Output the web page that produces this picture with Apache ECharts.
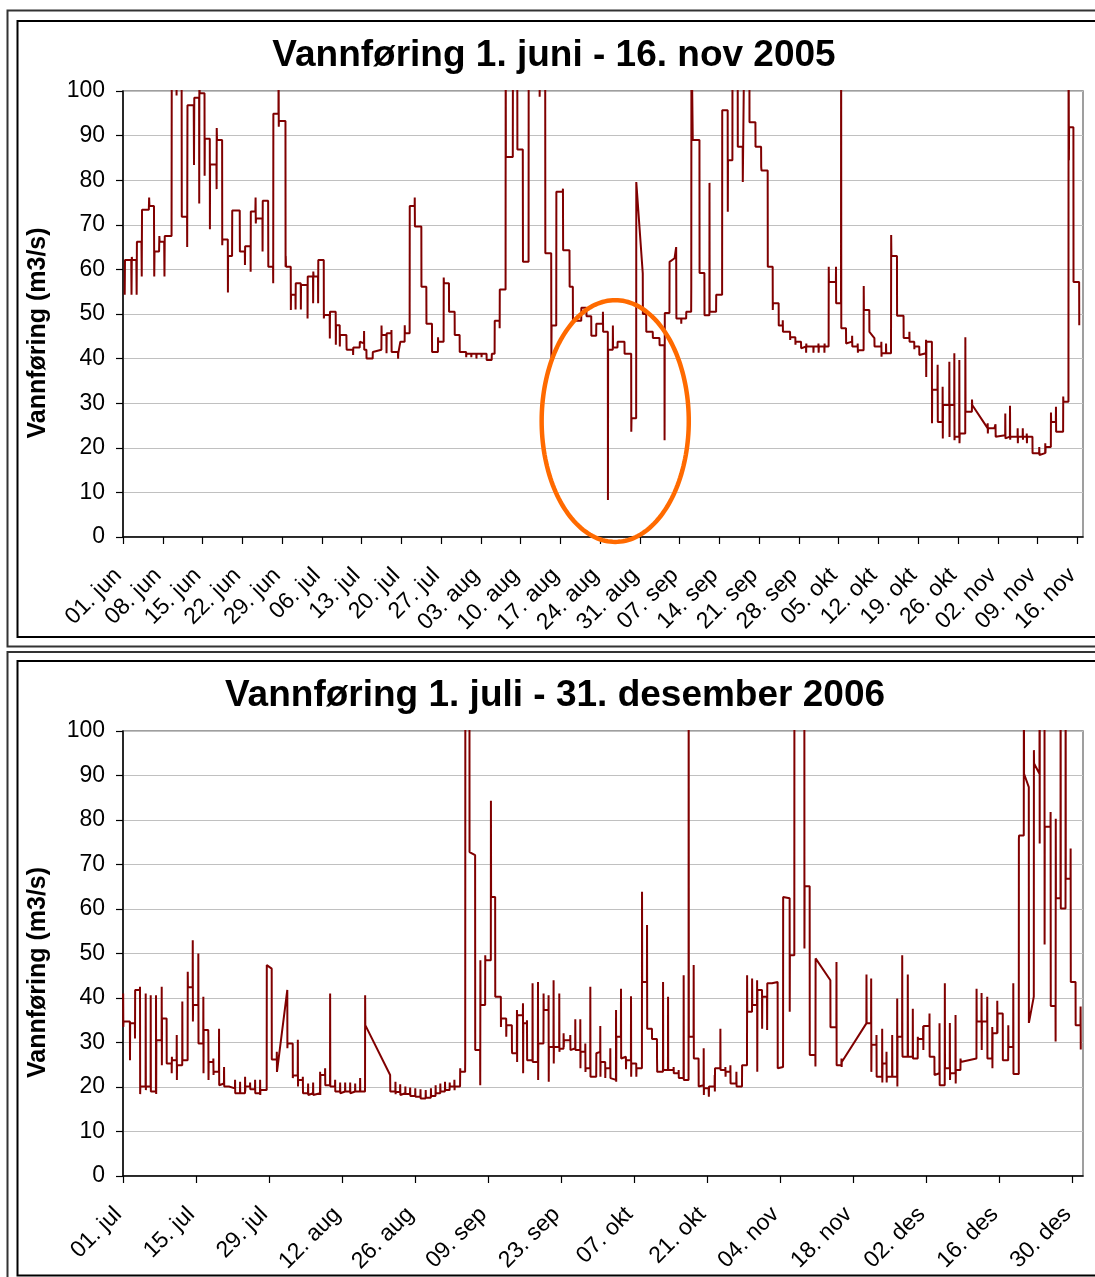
<!DOCTYPE html>
<html>
<head>
<meta charset="utf-8">
<title>Vannføring</title>
<script src="https://cdn.jsdelivr.net/npm/echarts@6/dist/echarts.min.js"></script>
<style>
  html, body { margin: 0; padding: 0; background: #ffffff; }
  #chart { width: 1095px; height: 1277px; }
</style>
</head>
<body>
<div id="chart"></div>
<script>
// Norwegian month abbreviations used on the date axes
const MONTHS = ['jan', 'feb', 'mar', 'apr', 'mai', 'jun', 'jul', 'aug', 'sep', 'okt', 'nov', 'des'];

// Period starts (year, month, day); x values below are days counted from these dates
const START_2005 = [2005, 6, 1];
const START_2006 = [2006, 7, 1];
const SPAN_2005 = 169;   // 1 June – 17 November 2005
const SPAN_2006 = 184;   // 1 July 2006 – 1 January 2007

// Flow readings (m3/s), [day since start, value]; values above 100 run off the top of the axis
const flow2005 = [
  [0.3,54.3],[0.35,62.1],[1.45,62.1],[1.5,54.3],[1.55,62.8],[1.6,62.1],[2.35,62.1],[2.4,54.3],[2.45,66.2],[3.25,66.2],
  [3.3,58.4],[3.35,73.4],[4.55,73.4],[4.6,76.1],[4.65,74.2],[5.45,74.2],[5.5,58.4],[5.55,64],[6.35,64],[6.4,67.5],
  [6.45,66.2],[7.25,66.2],[7.3,58.4],[7.35,67.5],[8.55,67.5],[8.6,125],[9.4,125],[9.43,99],[9.46,125],[10.3,125],
  [10.35,71.8],[11.28,71.8],[11.3,65],[11.35,96.8],[12.45,96.8],[12.5,83.4],[12.55,98.5],[13.4,98.5],[13.42,74.8],[13.45,110],
  [13.5,99.5],[14.35,99.5],[14.37,81],[14.4,89.3],[15.28,89.3],[15.3,69],[15.33,83.5],[16.45,83.5],[16.48,78],[16.5,91.7],
  [16.55,89],[17.45,89],[17.47,65.4],[17.5,66.7],[18.45,66.7],[18.47,54.8],[18.5,63],[19.2,63],[19.23,73.2],[20.55,73.2],
  [20.58,64],[21.45,64],[21.47,61],[21.5,65.2],[22.45,65.2],[22.47,59.5],[22.5,73],[23.3,73],[23.34,76.1],[23.38,70.3],
  [23.42,71.4],[24.55,71.4],[24.57,64],[24.6,75.4],[25.55,75.4],[25.58,60.6],[26.42,60.6],[26.44,56.9],[26.47,94.9],[27.37,94.9],
  [27.39,110],[27.42,92],[27.45,93.3],[28.6,93.3],[28.62,60.6],[28.65,63],[28.7,60.6],[29.53,60.6],[29.55,50.9],[29.58,54.3],
  [30.36,54.3],[30.38,51],[30.41,56.9],[31.29,56.9],[31.31,51],[31.34,56.5],[32.47,56.5],[32.49,49],[32.52,58.4],[33.45,58.4],
  [33.47,52.4],[33.5,59.5],[33.55,58.4],[34.33,58.4],[34.35,52.4],[34.38,62.1],[35.34,62.1],[35.36,49],[35.4,49.8],[36.38,49.8],
  [36.41,44.5],[36.44,50.5],[37.44,50.5],[37.47,43.1],[37.5,47.5],[38.15,47.5],[38.17,42.7],[38.2,45.3],[39.33,45.3],[39.35,42.7],
  [39.38,42],[40.49,42],[40.51,40.8],[40.54,42.5],[41.67,42.5],[41.69,43.8],[41.72,43.4],[42.42,43.4],[42.44,46.2],[42.47,42],
  [42.85,42],[42.87,40],[43.95,40],[43.98,41.5],[45.49,42],[45.51,47.4],[45.54,45.3],[46.37,45.3],[46.39,41.2],[46.42,45.7],
  [47.24,45.7],[47.26,46.4],[47.29,41.5],[48.4,41.5],[48.43,40],[48.46,41.2],[48.8,41.2],[48.83,43.8],[49.58,43.8],[49.6,47.5],
  [49.63,45.7],[50.46,45.7],[50.48,74.2],[51.34,74.2],[51.36,76.1],[51.39,69.6],[52.52,69.6],[52.54,56.1],[53.4,56.1],[53.42,47.8],
  [54.39,47.8],[54.41,41.5],[55.44,41.5],[55.46,44.8],[55.49,43.8],[56.44,43.8],[56.46,58.2],[56.5,56.9],[57.38,56.9],[57.4,50.5],
  [58.38,50.5],[58.4,45.3],[59.26,45.3],[59.28,41.5],[60.4,41.5],[60.42,40.3],[60.45,41.1],[61.3,41.1],[61.32,40.3],[61.35,41.1],
  [62.2,41.1],[62.22,40],[62.25,41.1],[63.1,41.1],[63.12,40.3],[63.15,41.1],[64,41.1],[64.02,39.7],[64.9,39.7],[64.93,41.1],
  [65.42,41.1],[65.44,48.5],[66.29,48.5],[66.31,46.8],[66.33,55.5],[67.35,55.5],[67.37,115],[67.4,85.2],[68.62,85.2],[68.65,115],
  [69.4,115],[69.43,86.9],[70.38,86.9],[70.41,61.7],[71.4,61.7],[71.42,115],[73.3,115],[73.35,98.7],[73.4,115],[74.32,115],
  [74.35,63.6],[75.38,63.6],[75.41,40],[75.45,47.4],[76.27,47.4],[76.29,77.4],[77.42,77.4],[77.45,78.1],[77.48,64.3],[78.6,64.3],
  [78.63,56.1],[79.19,56.1],[79.21,48.5],[80.67,48.5],[80.69,51.4],[81.57,51.4],[81.6,49.5],[82.43,49.5],[82.45,45.1],[83.3,45.1],
  [83.32,47.8],[84.47,47.8],[84.49,50.5],[84.52,46],[85.35,46],[85.37,8.3],[85.4,42],[86.22,42],[86.24,47.4],[86.27,42.5],
  [87.05,42.5],[87.07,43.8],[88.28,43.8],[88.3,41.1],[89.46,41.1],[89.48,23.6],[89.52,26.6],[90.34,26.6],[90.36,79.6],[91.5,59.1],
  [91.52,50],[92.1,50],[92.12,46],[93.26,46],[93.28,44.6],[94.44,44.6],[94.46,43],[95.32,43],[95.34,21.7],[95.38,50.2],
  [96.2,50.2],[96.22,61.7],[97.1,62.5],[97.35,62.5],[97.38,65],[97.42,49],[98.26,49],[98.28,47.8],[98.3,49],[99.14,49],
  [99.16,50.5],[100.02,50.5],[100.04,56.1],[100.07,115],[100.3,89],[101.48,89],[101.5,59.2],[102.35,59.2],[102.37,49.7],[103.23,49.7],
  [103.25,79.4],[103.28,50.5],[104.41,50.5],[104.43,54.3],[105.47,54.3],[105.49,95.7],[106.45,95.7],[106.47,72.9],[106.5,84.5],[107.28,84.5],
  [107.3,115],[108.2,115],[108.23,87.5],[109.09,87.5],[109.11,79.6],[109.4,115],[110.27,115],[110.29,93],[111.33,93],[111.35,87.5],
  [112.33,87.5],[112.35,83],[112.4,82.2],[113.49,82.2],[113.51,60.6],[114.37,60.6],[114.39,50.9],[114.42,52.4],[115.42,52.4],[115.44,47.4],
  [116.13,47.4],[116.15,48.6],[116.18,46],[117.43,46],[117.45,44.2],[117.48,44.8],[118.36,44.8],[118.38,43.1],[118.41,43.8],[119.36,43.8],
  [119.38,42.3],[119.41,42.7],[120.24,42.7],[120.26,41.3],[120.29,43.4],[120.32,42.7],[121.53,42.7],[121.55,41.3],[121.58,42.7],[122.41,42.7],
  [122.43,43.4],[122.46,41.3],[122.5,42.7],[123.46,42.7],[123.48,41.3],[123.51,43.4],[123.54,42.7],[124.22,42.7],[124.24,60.6],[124.27,57.2],
  [125.5,57.2],[125.52,60.6],[125.54,52.4],[126.4,52.4],[126.42,125],[126.45,46.8],[127.28,46.8],[127.3,43.4],[127.33,43.8],[128.34,43.8],
  [128.36,45.1],[128.39,42.7],[129.32,42.7],[129.34,43.4],[129.37,41.3],[129.4,41.9],[130.38,41.9],[130.4,56.3],[130.43,50.9],[131.38,50.9],
  [131.4,46],[132.28,44.6],[132.3,42.7],[133.48,42.7],[133.5,43.8],[133.53,40.4],[133.56,41.2],[134.31,41.2],[134.33,43.4],[134.36,41.2],
  [135.2,41.2],[135.23,67.7],[135.27,63],[136.25,63],[136.27,49.6],[137.41,49.6],[137.43,44.6],[138.42,44.6],[138.44,46],[138.47,43.8],
  [139.29,43.8],[139.31,42.1],[139.34,42.7],[140.17,42.7],[140.19,40.8],[140.22,41.2],[141.35,41.2],[141.37,44.2],[141.4,35.9],[141.43,43.8],
  [142.4,43.8],[142.42,25.5],[142.45,33],[143.39,33],[143.41,38.6],[143.44,25.8],[144.27,25.8],[144.29,33.7],[144.32,22.1],[144.35,29.6],
  [145.45,29.6],[145.47,39.3],[145.5,22.4],[145.53,29.6],[146.33,29.6],[146.35,41.2],[146.38,21.7],[146.41,22.5],[147.21,22.5],[147.23,39.7],
  [147.26,21],[147.3,23.2],[148.27,23.2],[148.29,44.8],[148.32,28.1],[149.44,28.1],[149.46,30.8],[149.5,29.6],[152.2,24.4],[152.22,25.5],
  [152.25,23.2],[152.28,24.4],[153.4,24.4],[153.6,25.3],[153.63,22.5],[153.66,22.8],[155.3,22.8],[155.32,27.7],[155.35,22.1],[155.38,22.5],
  [156.13,22.5],[156.15,29.4],[156.18,21.8],[156.21,22.5],[157.48,22.5],[157.5,24.4],[157.53,21],[157.56,22.5],[158.38,22.5],[158.4,24.4],
  [158.43,21.8],[158.46,22.5],[159.08,22.5],[159.1,23.2],[159.13,21],[159.16,22.5],[160.1,22.5],[160.12,18.8],[161.28,18.8],[161.3,20.2],
  [161.33,18.4],[161.36,18.8],[162.34,18.8],[162.36,21],[162.39,18.8],[162.42,20.2],[163.34,20.2],[163.36,27.9],[163.39,25.8],[164.22,25.8],
  [164.24,29.2],[164.27,23.6],[165.5,23.6],[165.52,31.5],[165.55,30.3],[166.44,30.3],[166.46,120],[166.52,84.5],[166.55,91.9],[167.31,91.9],
  [167.33,57.2],[168.32,57.2],[168.34,47.5]
];

const flow2006 = [
  [0.03,41.0],[0.06,33.5],[0.1,34.7],[1.32,34.7],[1.34,26.0],[1.37,34.3],[2.28,34.3],[2.3,30.9],[2.33,41.8],[3.24,41.8],
  [3.26,42.5],[3.29,18.4],[3.32,20.1],[4.33,20.1],[4.35,41.0],[4.38,19.3],[4.41,20.1],[5.29,20.1],[5.31,40.6],[5.34,19.0],
  [6.31,19.0],[6.33,40.6],[6.36,18.4],[6.39,30.5],[7.4,30.5],[7.42,42.5],[7.45,24.9],[7.48,35.4],[8.36,35.4],[8.38,25.3],
  [9.32,25.3],[9.34,23.1],[9.37,26.8],[9.4,26.0],[10.28,26.0],[10.3,31.7],[10.33,21.6],[10.36,24.9],[11.35,24.9],[11.37,39.2],
  [11.4,26.0],[12.39,26.0],[12.41,45.9],[12.44,42.4],[13.35,42.4],[13.37,53.0],[13.4,34.7],[13.43,38.4],[14.42,38.4],[14.44,50.0],
  [14.47,29.8],[15.38,29.8],[15.4,40.3],[15.43,23.1],[15.46,32.8],[16.34,32.8],[16.36,31.3],[16.39,21.6],[16.42,25.6],[17.3,25.6],
  [17.32,26.4],[17.35,22.7],[17.38,23.4],[18.39,23.4],[18.41,33.1],[18.44,20.4],[18.47,20.8],[19.35,20.8],[19.37,24.5],[19.4,20.1],
  [20.31,20.1],[20.33,19.7],[21.46,19.7],[21.48,21.6],[21.51,18.6],[22.42,18.6],[22.44,21.2],[22.47,18.6],[23.38,18.6],[23.4,22.3],
  [23.43,19.0],[23.46,20.1],[24.34,20.1],[24.36,21.0],[24.39,19.5],[25.3,19.5],[25.32,21.6],[25.35,18.6],[26.26,18.6],[26.28,21.6],
  [26.31,18.2],[26.34,19.3],[27.54,19.3],[27.56,47.4],[27.6,47.2],[28.5,46.6],[28.52,26.2],[29.46,26.2],[29.48,27.9],[29.51,23.4],
  [31.49,41.8],[31.51,28.7],[31.54,29.8],[32.53,29.8],[32.55,22.0],[32.58,22.6],[33.49,22.6],[33.51,30.6],[33.54,20.1],[33.57,21.6],
  [34.45,21.6],[34.47,22.3],[34.5,18.6],[35.46,18.6],[35.48,20.8],[35.51,18.2],[35.54,18.6],[36.42,18.6],[36.44,21.0],[36.47,18.2],
  [36.5,18.6],[37.76,18.6],[37.78,23.4],[37.81,18.2],[37.84,22.7],[38.72,22.7],[38.74,24.2],[38.77,20.4],[39.68,20.4],[39.7,41.0],
  [39.73,20.1],[40.64,20.1],[40.66,21.6],[40.69,19.0],[41.6,19.0],[41.62,21.0],[41.65,18.6],[41.68,19.0],[42.56,19.0],[42.58,21.0],
  [42.61,19.0],[43.52,19.0],[43.54,21.0],[43.57,18.6],[43.6,19.0],[44.48,19.0],[44.5,20.8],[44.53,19.0],[45.43,19.0],[45.45,22.0],
  [45.48,19.0],[46.39,19.0],[46.41,40.6],[46.44,33.9],[51.2,22.7],[51.23,19.0],[52.2,19.0],[52.22,21.2],[52.25,18.4],[52.28,18.9],
  [53.1,18.9],[53.13,20.6],[53.16,18.2],[53.2,18.6],[54.1,18.6],[54.12,20.1],[54.15,18.4],[55.0,18.4],[55.04,19.9],[55.07,18.0],
  [56.0,18.0],[56.02,19.7],[56.05,17.8],[57.0,17.8],[57.02,19.5],[57.05,17.4],[58.0,17.4],[58.02,19.3],[58.05,17.6],[59.0,17.6],
  [59.02,19.7],[59.05,18.0],[59.9,18.0],[59.92,20.4],[59.95,18.6],[60.8,18.6],[60.82,20.8],[60.85,19.0],[61.7,19.0],[61.72,21.2],
  [61.75,19.3],[62.6,19.3],[62.62,21.0],[62.65,20.1],[63.5,20.1],[63.52,21.6],[63.55,19.3],[63.58,20.1],[64.6,20.1],[64.63,24.2],
  [64.66,23.4],[65.57,23.4],[65.59,26.2],[65.62,125],[66.4,125],[66.42,72.8],[67.49,72.1],[67.51,28.3],[68.45,28.3],[68.47,20.4],
  [68.5,48.5],[68.53,38.4],[69.41,38.4],[69.43,49.6],[69.46,48.5],[70.5,48.5],[70.52,84.3],[70.55,62.7],[71.33,62.7],[71.35,40.3],
  [72.42,40.3],[72.44,33.5],[72.47,35.4],[73.44,35.4],[73.46,31.3],[73.49,33.9],[74.53,33.9],[74.55,28.3],[74.58,27.6],[75.49,27.6],
  [75.51,37.3],[75.54,25.6],[75.57,36.1],[76.64,36.1],[76.66,38.8],[76.69,23.1],[76.72,34.3],[77.41,34.3],[77.43,35.0],[77.46,26.0],
  [78.48,26.0],[78.5,43.3],[78.53,25.6],[79.52,25.6],[79.54,43.6],[79.57,21.6],[79.6,29.8],[80.59,29.8],[80.61,41.0],[80.64,37.3],
  [81.55,37.3],[81.57,40.6],[81.6,21.2],[81.63,29.0],[82.51,29.0],[82.53,44.0],[82.56,25.3],[82.59,29.0],[83.6,29.0],[83.62,41.0],
  [83.65,27.9],[83.68,28.6],[84.43,28.6],[84.45,32.1],[84.48,29.0],[84.51,30.5],[85.71,30.5],[85.73,31.7],[85.76,28.3],[85.79,28.7],
  [86.67,28.7],[86.69,35.2],[86.72,28.3],[87.63,28.3],[87.65,35.2],[87.68,24.2],[87.71,27.9],[88.59,27.9],[88.61,29.8],[88.64,23.4],
  [88.67,24.2],[89.55,24.2],[89.57,42.5],[89.6,22.3],[90.7,22.3],[90.72,27.6],[90.75,27.9],[91.46,27.9],[91.48,33.7],[91.51,22.3],
  [91.54,25.6],[92.42,25.6],[92.44,22.0],[92.47,24.2],[93.38,24.2],[93.4,28.7],[93.43,22.0],[93.46,21.6],[94.48,21.6],[94.5,37.3],
  [94.53,21.2],[94.56,31.3],[95.43,31.3],[95.45,42.1],[95.48,26.4],[95.51,26.8],[96.39,26.8],[96.41,24.0],[96.44,26.0],[97.35,26.0],
  [97.37,40.4],[97.4,22.3],[97.43,25.3],[98.37,25.3],[98.39,22.3],[98.42,24.2],[99.46,24.2],[99.48,63.9],[99.51,43.6],[100.42,43.6],
  [100.44,56.4],[100.47,33.1],[101.38,33.1],[101.4,30.8],[102.34,30.8],[102.36,26.0],[102.39,23.4],[103.49,23.4],[103.51,43.6],[103.54,23.8],
  [104.45,23.8],[104.47,40.3],[104.5,23.8],[105.52,23.8],[105.54,24.5],[105.57,23.1],[106.48,23.1],[106.5,23.8],[106.53,22.0],[107.44,22.0],
  [107.46,45.1],[107.49,21.6],[108.4,21.6],[108.42,125],[108.45,31.3],[109.36,31.3],[109.38,47.4],[109.41,26.4],[110.32,26.4],[110.34,20.1],
  [110.37,20.4],[111.28,20.4],[111.3,28.7],[111.33,18.2],[111.36,19.7],[112.24,19.7],[112.26,20.1],[112.29,17.8],[112.32,20.1],[113.39,20.1],
  [113.41,22.7],[113.44,19.0],[113.47,24.2],[114.48,24.2],[114.5,33.1],[114.53,23.8],[115.44,23.8],[115.46,24.5],[115.49,22.3],[115.52,23.4],
  [116.4,23.4],[116.42,24.9],[116.45,20.8],[117.55,20.8],[117.57,23.4],[117.6,20.1],[118.64,20.1],[118.66,24.9],[119.6,24.9],[119.62,45.1],
  [119.65,36.9],[120.56,36.9],[120.58,44.4],[120.61,38.4],[121.52,38.4],[121.54,44.0],[121.57,23.4],[121.6,41.8],[122.48,41.8],[122.5,33.1],
  [122.53,40.3],[123.44,40.3],[123.46,32.8],[123.49,43.3],[124.4,43.3],[124.42,43.6],[125.47,43.6],[125.49,24.2],[125.52,24.5],[126.51,24.5],
  [126.53,62.7],[127.77,62.4],[127.79,36.9],[127.82,49.6],[128.67,49.6],[128.69,125],[130.59,125],[130.61,51.1],[130.64,65.1],[131.61,65.1],
  [131.63,27.2],[132.7,27.2],[132.72,24.6],[132.75,48.9],[135.58,44.0],[135.6,33.4],[136.73,33.4],[136.75,48.1],[136.78,24.9],[137.69,24.9],
  [137.71,26.4],[137.74,24.5],[137.77,25.6],[142.48,34.3],[142.5,45.3],[142.53,34.3],[143.38,34.3],[143.4,44.4],[143.43,23.4],[143.46,29.5],
  [144.4,29.5],[144.42,31.7],[144.45,22.3],[145.49,22.3],[145.51,33.1],[145.54,21.0],[145.57,25.3],[146.32,25.3],[146.34,27.9],[146.37,21.0],
  [146.4,22.3],[147.41,22.3],[147.43,31.7],[147.46,22.3],[148.37,22.3],[148.39,39.9],[148.42,20.1],[148.45,31.3],[149.33,31.3],[149.35,49.6],
  [149.38,29.0],[149.41,26.8],[150.4,26.8],[150.42,45.3],[150.45,26.8],[151.36,26.8],[151.38,37.6],[151.41,26.4],[152.32,26.4],[152.34,31.3],
  [152.37,30.8],[153.35,30.8],[153.37,33.7],[153.4,28.3],[153.43,33.7],[154.56,33.7],[154.58,36.5],[154.61,26.8],[155.52,26.8],[155.54,22.7],
  [155.57,23.1],[156.48,23.1],[156.5,34.3],[156.53,20.4],[157.5,20.4],[157.52,43.3],[157.55,24.2],[158.46,24.2],[158.48,34.4],[158.51,21.6],
  [158.54,23.1],[159.55,23.1],[159.57,36.2],[159.6,20.8],[159.63,23.8],[160.51,23.8],[160.53,26.4],[160.56,25.6],[163.58,26.4],[163.6,42.1],
  [163.63,34.7],[164.54,34.7],[164.56,41.1],[164.59,28.3],[164.62,34.7],[165.63,34.7],[165.65,40.3],[165.68,26.4],[166.59,26.4],[166.61,33.5],
  [166.64,24.2],[166.67,32.1],[167.55,32.1],[167.57,39.4],[167.6,32.1],[167.63,36.5],[168.62,36.5],[168.64,26.0],[169.66,26.0],[169.68,33.9],
  [169.71,29.0],[170.62,29.0],[170.64,43.3],[170.67,22.9],[171.69,22.9],[171.71,75.8],[171.74,76.5],[172.65,76.5],[172.67,125],[172.7,90.4],
  [173.61,87.4],[173.63,34.4],[174.57,40.3],[174.59,95.7],[174.62,92.7],[175.66,90.4],[175.68,125],[175.7,74.7],[175.72,125],[176.62,125],
  [176.64,52],[176.67,78.5],[177.77,78.5],[177.79,81.8],[177.82,38.2],[178.73,38.2],[178.75,30.2],[178.78,80.3],[178.81,62.4],[179.69,62.4],
  [179.71,125],[179.74,60.1],[180.65,60.1],[180.67,125],[180.7,66.8],[181.61,66.8],[181.63,73.6],[181.66,43.6],[182.57,43.6],[182.59,33.9],
  [183.52,33.9],[183.54,38.1],[183.57,28.4],[183.7,28.4]
];

// Tick positions (days) and y-axis scale
const ticks2005 = [0, 7, 14, 21, 28, 35, 42, 49, 56, 63, 70, 77, 84, 91, 98, 105, 112, 119, 126, 133, 140, 147, 154, 161, 168];
const ticks2006 = [0, 14, 28, 42, 56, 70, 84, 98, 112, 126, 140, 154, 168, 182];
const FLOW_MAX = 100;
const FLOW_STEP = 10;

// Circled period in 2005 (days and flow range that the ring encloses)
const circled2005 = { dayFrom: 73.7, dayTo: 99.6, flowLow: -1.1, flowHigh: 53.1 };

const TITLE_2005 = 'Vannføring 1. juni - 16. nov 2005';
const TITLE_2006 = 'Vannføring 1. juli - 31. desember 2006';
const Y_NAME = 'Vannføring (m3/s)';

const FONT = '"Liberation Sans", Arial, Helvetica, sans-serif';
const LINE_COLOR = '#800000';

function dayLabel(start, day) {
  const d = new Date(Date.UTC(start[0], start[1] - 1, start[2] + Math.round(day)));
  return String(d.getUTCDate()).padStart(2, '0') + '. ' + MONTHS[d.getUTCMonth()];
}

function xAxisFor(gridIndex, span, ticks, start, step) {
  return {
    type: 'value',
    gridIndex: gridIndex,
    min: 0,
    max: span,
    interval: step,
    axisLine: { show: true, lineStyle: { color: '#000', width: 1.5 } },
    axisTick: { show: true, length: 7, lineStyle: { color: '#000', width: 1.2 }, customValues: ticks },
    axisLabel: {
      show: true,
      rotate: 45,
      margin: 30,
      fontSize: 23,
      fontFamily: FONT,
      color: '#000',
      padding: [0, 7, 0, 0],
      showMinLabel: true,
      showMaxLabel: true,
      hideOverlap: false,
      customValues: ticks,
      formatter: function (v) { return dayLabel(start, v); }
    },
    splitLine: { show: false }
  };
}

function yAxisFor(gridIndex) {
  return {
    type: 'value',
    gridIndex: gridIndex,
    min: 0,
    max: FLOW_MAX,
    interval: FLOW_STEP,
    name: Y_NAME,
    nameLocation: 'middle',
    nameRotate: 90,
    nameGap: 72,
    nameTextStyle: { fontSize: 25, fontWeight: 'bold', fontFamily: FONT, color: '#000', padding: [0, 38, 0, 0] },
    axisLine: { show: true, lineStyle: { color: '#000', width: 1.5 } },
    axisTick: { show: true, length: 7, lineStyle: { color: '#000', width: 1.2 } },
    axisLabel: { show: true, margin: 18, fontSize: 23, fontFamily: FONT, color: '#000' },
    splitLine: { show: true, lineStyle: { color: '#c0c0c0', width: 1 } }
  };
}

function flowSeries(index, data) {
  return {
    type: 'line',
    xAxisIndex: index,
    yAxisIndex: index,
    data: data,
    showSymbol: false,
    symbol: 'none',
    clip: true,
    animation: false,
    lineStyle: { color: LINE_COLOR, width: 2 },
    emphasis: { disabled: true }
  };
}

const chart = echarts.init(document.getElementById('chart'), null, { renderer: 'canvas' });

chart.setOption({
  backgroundColor: '#ffffff',
  animation: false,
  grid: [
    { left: 123, top: 91, width: 960, height: 446, show: true, borderColor: '#808080', borderWidth: 1.5, backgroundColor: 'transparent' },
    { left: 123, top: 731, width: 960, height: 445, show: true, borderColor: '#808080', borderWidth: 1.5, backgroundColor: 'transparent' }
  ],
  xAxis: [
    xAxisFor(0, SPAN_2005, ticks2005, START_2005, 7),
    xAxisFor(1, SPAN_2006, ticks2006, START_2006, 14)
  ],
  yAxis: [yAxisFor(0), yAxisFor(1)],
  series: [flowSeries(0, flow2005), flowSeries(1, flow2006)]
});

// Frames, titles and the ring around the low readings
const p1 = chart.convertToPixel({ gridIndex: 0 }, [circled2005.dayFrom, circled2005.flowHigh]);
const p2 = chart.convertToPixel({ gridIndex: 0 }, [circled2005.dayTo, circled2005.flowLow]);
const cx = (p1[0] + p2[0]) / 2, cy = (p1[1] + p2[1]) / 2;
const rx = Math.abs(p2[0] - p1[0]) / 2, ry = Math.abs(p2[1] - p1[1]) / 2;
const ring = [];
for (let i = 0; i < 180; i++) {
  const a = (i / 180) * Math.PI * 2;
  ring.push([cx + rx * Math.cos(a), cy + ry * Math.sin(a)]);
}

function frame(x, y, w, h, color) {
  return { type: 'rect', silent: true, shape: { x: x, y: y, width: w, height: h },
           style: { fill: 'none', stroke: color, lineWidth: 2 } };
}

chart.setOption({
  graphic: [
    frame(7.5, 10.5, 1100, 636, '#333'),
    frame(17.5, 21, 1100, 616, '#000'),
    frame(7.5, 652, 1100, 640, '#333'),
    frame(17.5, 661, 1100, 614.5, '#000'),
    { type: 'text', silent: true, x: 554, y: 56,
      style: { text: TITLE_2005, fill: '#000', font: 'bold 37px ' + FONT, align: 'center', verticalAlign: 'middle' } },
    { type: 'text', silent: true, x: 555, y: 696,
      style: { text: TITLE_2006, fill: '#000', font: 'bold 37px ' + FONT, align: 'center', verticalAlign: 'middle' } },
    { type: 'polygon', silent: true, z: 100, shape: { points: ring },
      style: { fill: 'none', stroke: '#ff6a00', lineWidth: 4.5 } }
  ]
});
</script>
</body>
</html>
